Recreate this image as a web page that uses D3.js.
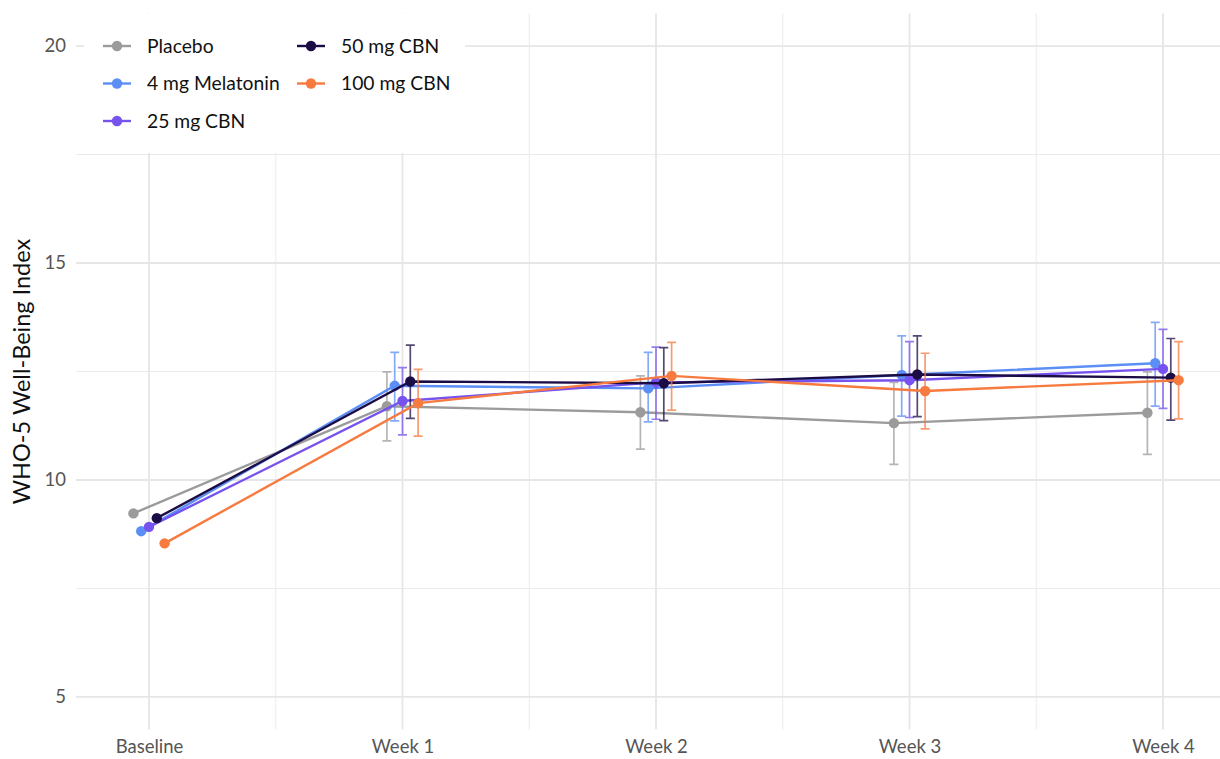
<!DOCTYPE html>
<html><head><meta charset="utf-8">
<script src="https://cdn.jsdelivr.net/npm/d3@7"></script>
<style>body{margin:0;background:#fff}svg{display:block}</style>
</head><body>
<svg id="c" width="1220" height="759"></svg>
<script>
const timepoints = ["Baseline","Week 1","Week 2","Week 3","Week 4"];
const groups = ["Placebo","4 mg Melatonin","25 mg CBN","50 mg CBN","100 mg CBN"];
const colors = ["#9b9b9b","#5b8ff5","#7652ee","#1c0c45","#f77a3f"];
const yTicks = [5,10,15,20];
// means per group over timepoints
const placeboMean   = [9.23,11.70,11.56,11.31,11.55];
const melatoninMean = [8.82,12.17,12.11,12.42,12.69];
const cbn25Mean     = [8.92,11.82,12.25,12.30,12.56];
const cbn50Mean     = [9.12,12.27,12.23,12.43,12.36];
const cbn100Mean    = [8.54,11.77,12.40,12.05,12.30];
// error bar bounds (null at baseline)
const placeboLo   = [null,10.90,10.71,10.36,10.59];
const placeboHi   = [null,12.49,12.40,12.25,12.49];
const melatoninLo = [null,11.36,11.34,11.47,11.70];
const melatoninHi = [null,12.94,12.94,13.32,13.63];
const cbn25Lo     = [null,11.04,11.40,11.44,11.65];
const cbn25Hi     = [null,12.59,13.06,13.19,13.47];
const cbn50Lo     = [null,11.42,11.37,11.46,11.38];
const cbn50Hi     = [null,13.11,13.05,13.32,13.26];
const cbn100Lo    = [null,11.01,11.61,11.18,11.41];
const cbn100Hi    = [null,12.55,13.17,12.92,13.19];

const means = [placeboMean,melatoninMean,cbn25Mean,cbn50Mean,cbn100Mean];
const los = [placeboLo,melatoninLo,cbn25Lo,cbn50Lo,cbn100Lo];
const his = [placeboHi,melatoninHi,cbn25Hi,cbn50Hi,cbn100Hi];

const series = groups.map((g,gi)=>({name:g,color:colors[gi],gi,
  values:timepoints.map((t,ti)=>({t,ti,m:means[gi][ti],lo:los[gi][ti],hi:his[gi][ti]}))}));

const svg = d3.select("#c");
const panel = {left:76,right:1220,top:13.5,bottom:729.5};
const x = d3.scalePoint().domain(timepoints).range([149,1163]);
const dodge = d3.scaleLinear().domain([0,groups.length-1]).range([-15.6,15.6]);
const y = d3.scaleLinear().domain([4.25,20.75]).range([panel.bottom,panel.top]);
const font = "Lato, 'Open Sans', sans-serif";

// grid
const g = svg.append("g");
const minorY = [7.5,12.5,17.5];
g.selectAll(".my").data(minorY).join("line").attr("x1",panel.left).attr("x2",panel.right)
  .attr("y1",d=>y(d)).attr("y2",d=>y(d)).attr("stroke","#ebebeb").attr("stroke-width",1);
const step = x.step();
const minorX = timepoints.slice(0,-1).map(t=>x(t)+step/2);
g.selectAll(".mx").data(minorX).join("line").attr("y1",panel.top).attr("y2",panel.bottom)
  .attr("x1",d=>d).attr("x2",d=>d).attr("stroke","#ebebeb").attr("stroke-width",1);
g.selectAll(".gy").data(yTicks).join("line").attr("x1",panel.left).attr("x2",panel.right)
  .attr("y1",d=>y(d)).attr("y2",d=>y(d)).attr("stroke","#e6e6e6").attr("stroke-width",1.8);
g.selectAll(".gx").data(timepoints).join("line").attr("y1",panel.top).attr("y2",panel.bottom)
  .attr("x1",d=>x(d)).attr("x2",d=>x(d)).attr("stroke","#e6e6e6").attr("stroke-width",1.8);

// axes
const yAxis = svg.append("g").attr("transform",`translate(${panel.left},0)`)
  .call(d3.axisLeft(y).tickValues(yTicks).tickSize(0).tickPadding(10));
yAxis.select(".domain").remove();
yAxis.selectAll("text").attr("font-family",font).attr("font-size",18.5).attr("fill","#555");
const xAxis = svg.append("g").attr("transform",`translate(0,${panel.bottom})`)
  .call(d3.axisBottom(x).tickSize(0).tickPadding(10));
xAxis.select(".domain").remove();
xAxis.selectAll("text").attr("font-family",font).attr("font-size",18.5).attr("fill","#555");

svg.append("text").attr("transform",`translate(30,${(panel.top+panel.bottom)/2}) rotate(-90)`)
  .attr("text-anchor","middle").attr("font-family",font).attr("font-size",23.5).attr("fill","#111")
  .text("WHO-5 Well-Being Index");

// series
const line = d3.line().x(d=>d.x).y(d=>d.y);
series.forEach(s=>{
  const pts = s.values.map(v=>({...v,x:x(v.t)+dodge(s.gi),y:y(v.m)}));
  const sg = svg.append("g");
  const eb = pts.filter(p=>p.lo!=null);
  sg.selectAll(".eb").data(eb).join("path")
    .attr("d",p=>`M${p.x-4.5},${y(p.hi)}H${p.x+4.5}M${p.x},${y(p.hi)}V${y(p.lo)}M${p.x-4.5},${y(p.lo)}H${p.x+4.5}`)
    .attr("stroke",s.color).attr("stroke-opacity",0.75).attr("stroke-width",1.7).attr("fill","none");
  sg.append("path").attr("d",line(pts)).attr("stroke",s.color).attr("stroke-width",2.4).attr("fill","none");
  sg.selectAll("circle").data(pts).join("circle").attr("cx",p=>p.x).attr("cy",p=>p.y).attr("r",5.2)
    .attr("fill",s.color);
});

// legend
const lg = svg.append("g");
lg.append("rect").attr("x",84).attr("y",14).attr("width",381).attr("height",139).attr("fill","#fff");
const cols = [[0,1,2],[3,4]];
const colX = [103,297];
const rowY = [46,83.5,121];
cols.forEach((c,ci)=>c.forEach((gi,ri)=>{
  const ox = colX[ci], oy = rowY[ri];
  lg.append("line").attr("x1",ox).attr("x2",ox+28).attr("y1",oy).attr("y2",oy)
    .attr("stroke",colors[gi]).attr("stroke-width",2.4);
  lg.append("circle").attr("cx",ox+14).attr("cy",oy).attr("r",5.2).attr("fill",colors[gi]);
  lg.append("text").attr("x",ox+44).attr("y",oy).attr("dy","0.36em")
    .attr("font-family",font).attr("font-size",19.3).attr("fill","#111").text(groups[gi]);
}));
</script>
</body></html>
